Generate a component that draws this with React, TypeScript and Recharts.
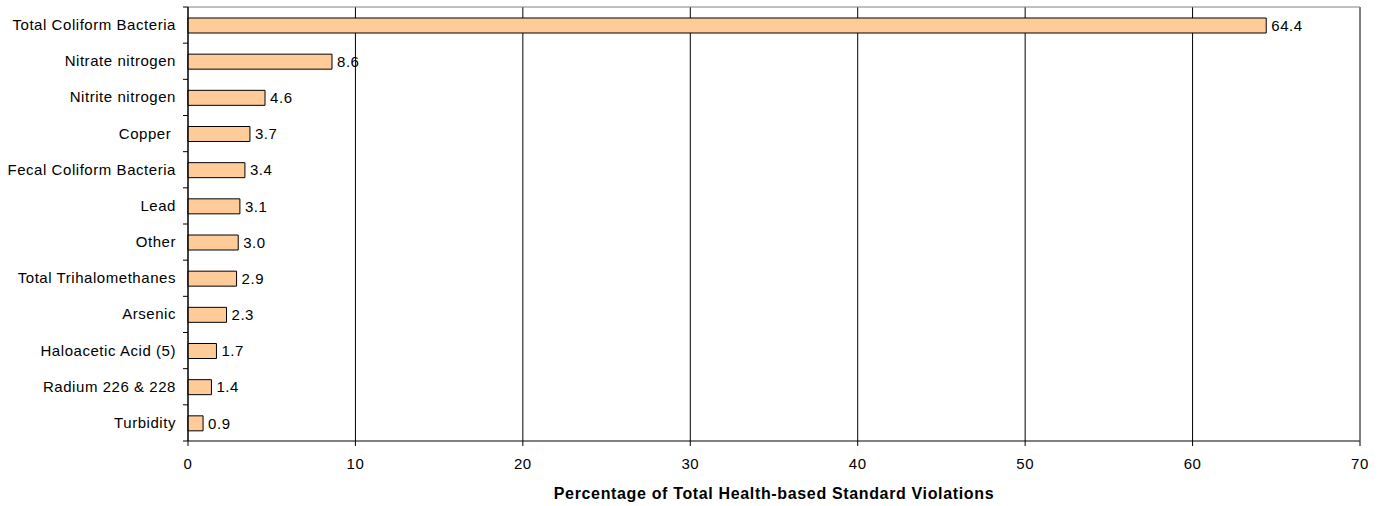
import { BarChart, Bar, XAxis, YAxis, CartesianGrid, LabelList } from 'recharts'

const categories = [
  'Total Coliform Bacteria',
  'Nitrate nitrogen',
  'Nitrite nitrogen',
  'Copper\u00a0',
  'Fecal Coliform Bacteria',
  'Lead',
  'Other',
  'Total Trihalomethanes',
  'Arsenic',
  'Haloacetic Acid (5)',
  'Radium 226 & 228',
  'Turbidity',
]
const percentages = [64.4, 8.6, 4.6, 3.7, 3.4, 3.1, 3.0, 2.9, 2.3, 1.7, 1.4, 0.9]
const xTicks = [0, 10, 20, 30, 40, 50, 60, 70]
const xTitle = 'Percentage of Total Health-based Standard Violations'

const W = 1390
const H = 506
const M = { top: 6, right: 29, bottom: 0, left: 0 }
const Y_W = 188
const X_H = 65
const band = (H - M.top - 1 - M.bottom - X_H) / categories.length
const font = 'Liberation Sans, Arial, sans-serif'
const txt = { fill: '#000', fontSize: 15, fontFamily: font, letterSpacing: 0.55 }

const data = categories.map((name, i) => ({ name, value: percentages[i] }))

const CatTick = ({ x, y, payload, index }: any) => {
  const ax = x + 12
  return (
    <g>
      <text x={x} y={y} dy={5} textAnchor="end" {...txt}>
        {payload.value}
      </text>
      <line x1={ax - 5} x2={ax} y1={y - band / 2} y2={y - band / 2} stroke="#000" />
      {index === categories.length - 1 && (
        <line x1={ax - 5} x2={ax} y1={y + band / 2} y2={y + band / 2} stroke="#000" />
      )}
    </g>
  )
}

export default function App() {
  return (
    <div style={{ position: 'absolute', left: 0, top: 0, background: '#fff' }}>
      <BarChart width={W} height={H} data={data} layout="vertical" margin={M} barSize={15}>
        <CartesianGrid horizontal={false} stroke="#000" />
        <XAxis
          type="number"
          domain={[0, 70]}
          ticks={xTicks}
          interval={0}
          height={X_H}
          tickSize={5}
          tickMargin={12}
          axisLine={{ stroke: '#000' }}
          tickLine={{ stroke: '#000' }}
          tick={txt}
          label={{ value: xTitle, position: 'insideBottom', offset: 7, fill: '#000', fontSize: 16, fontWeight: 'bold', fontFamily: font, letterSpacing: 0.65 }}
        />
        <XAxis xAxisId="top" orientation="top" type="number" domain={[0, 70]} height={1} tick={false} tickLine={false} axisLine={{ stroke: '#808080' }} />
        <YAxis
          type="category"
          dataKey="name"
          width={Y_W}
          tickLine={false}
          tickMargin={12}
          tickSize={0}
          interval={0}
          axisLine={{ stroke: '#000' }}
          tick={<CatTick />}
        />
        <YAxis yAxisId="right" orientation="right" type="category" dataKey="name" width={1} tick={false} tickLine={false} axisLine={{ stroke: '#808080' }} />
        <Bar dataKey="value" fill="#FFCC99" stroke="#000" strokeWidth={1} isAnimationActive={false}>
          <LabelList dataKey="value" position="right" offset={5} formatter={(v: any) => Number(v).toFixed(1)} {...txt} />
        </Bar>
      </BarChart>
    </div>
  )
}
